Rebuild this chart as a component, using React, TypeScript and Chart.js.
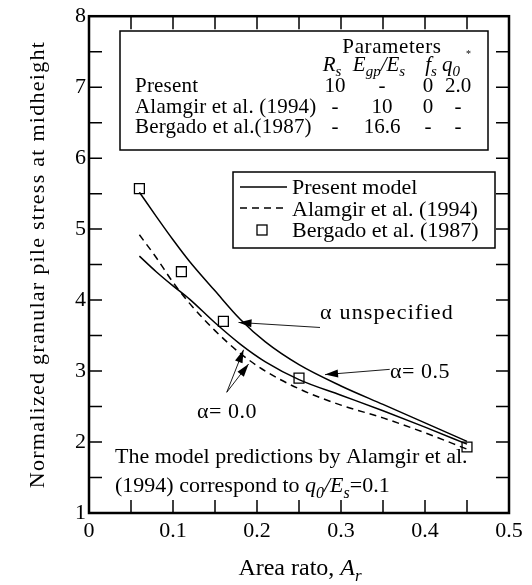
import React, { useEffect, useRef } from "react";
import { Chart, registerables } from "chart.js";

Chart.register(...registerables);

const FONT = "'Liberation Serif', 'Times New Roman', Times, serif";
const FS = 22;

const xTickLabels = ["0", "0.1", "0.2", "0.3", "0.4", "0.5"];
const yTickLabels = ["1", "2", "3", "4", "5", "6", "7", "8"];
const yTitle = "Normalized granular pile stress at midheight";

const modelX = [0.06, 0.08, 0.1, 0.12, 0.15, 0.18, 0.21, 0.25, 0.3, 0.35, 0.4, 0.45];
const presentUnspecifiedY = [5.52, 5.18, 4.85, 4.54, 4.13, 3.73, 3.41, 3.09, 2.79, 2.53, 2.27, 2.01];
const presentAlphaZeroY = [4.62, 4.4, 4.2, 4.01, 3.68, 3.38, 3.13, 2.88, 2.66, 2.44, 2.21, 1.97];
const alamgirY = [4.92, 4.6, 4.25, 3.95, 3.57, 3.25, 3.0, 2.75, 2.52, 2.34, 2.13, 1.9];
const bergadoX = [0.06, 0.11, 0.16, 0.25, 0.45];
const bergadoY = [5.57, 4.4, 3.7, 2.9, 1.93];

const legendLabels = ["Present model", "Alamgir et al. (1994)", "Bergado et al. (1987)"];
const paramRowLabels = ["Present", "Alamgir et al. (1994)", "Bergado et al.(1987)"];
const paramValues = [
  ["10", "-", "0", "2.0"],
  ["-", "10", "0", "-"],
  ["-", "16.6", "-", "-"],
];

type Seg = { t: string; it?: boolean; sub?: boolean };

function segFont(s: Seg, size: number) {
  return `${s.it ? "italic " : ""}${s.sub ? Math.round(size * 0.72) : size}px ${FONT}`;
}

function drawRich(
  ctx: CanvasRenderingContext2D,
  segs: Seg[],
  x: number,
  y: number,
  size: number,
  align: "left" | "center" | "right",
  ls = 0
) {
  const c: any = ctx;
  c.letterSpacing = `${ls}px`;
  let w = 0;
  for (const s of segs) {
    ctx.font = segFont(s, size);
    w += ctx.measureText(s.t).width;
  }
  let cx = align === "left" ? x : align === "center" ? x - w / 2 : x - w;
  ctx.textAlign = "left";
  ctx.textBaseline = "alphabetic";
  for (const s of segs) {
    ctx.font = segFont(s, size);
    ctx.fillText(s.t, cx, y + (s.sub ? size * 0.25 : 0));
    cx += ctx.measureText(s.t).width;
  }
  c.letterSpacing = "0px";
}

function arrow(ctx: CanvasRenderingContext2D, x1: number, y1: number, x2: number, y2: number) {
  ctx.beginPath();
  ctx.lineWidth = 0.9;
  ctx.moveTo(x1, y1);
  ctx.lineTo(x2, y2);
  ctx.stroke();
  const a = Math.atan2(y2 - y1, x2 - x1);
  const L = 13;
  const W = 4;
  ctx.beginPath();
  ctx.moveTo(x2, y2);
  ctx.lineTo(x2 - L * Math.cos(a) + W * Math.sin(a), y2 - L * Math.sin(a) - W * Math.cos(a));
  ctx.lineTo(x2 - L * Math.cos(a) - W * Math.sin(a), y2 - L * Math.sin(a) + W * Math.cos(a));
  ctx.closePath();
  ctx.fill();
}

const overlay = {
  id: "overlay",
  afterDraw(chart: any) {
    const ctx: CanvasRenderingContext2D = chart.ctx;
    const xs = chart.scales.x;
    const ys = chart.scales.y;
    const X = (v: number) => xs.getPixelForValue(v);
    const Y = (v: number) => ys.getPixelForValue(v);
    const { left, right, top, bottom } = chart.chartArea;
    ctx.save();
    ctx.strokeStyle = "#000";
    ctx.fillStyle = "#000";

    // inward ticks
    ctx.lineWidth = 1.5;
    const TL = 13;
    ctx.beginPath();
    for (let i = 1; i < 10; i++) {
      const px = X(i * 0.05);
      ctx.moveTo(px, bottom);
      ctx.lineTo(px, bottom - TL);
      ctx.moveTo(px, top);
      ctx.lineTo(px, top + TL);
    }
    for (let i = 1; i < 14; i++) {
      const py = Y(1 + i * 0.5);
      ctx.moveTo(left, py);
      ctx.lineTo(left + TL, py);
      ctx.moveTo(right, py);
      ctx.lineTo(right - TL, py);
    }
    ctx.stroke();

    // frame
    ctx.lineWidth = 2.5;
    ctx.strokeRect(left, top, right - left, bottom - top);

    // parameters box
    ctx.lineWidth = 1.5;
    ctx.strokeRect(120, 31, 368, 119);
    drawRich(ctx, [{ t: "Parameters" }], 392, 53, 21, "center", 0.6);
    drawRich(ctx, [{ t: "R", it: true }, { t: "s", it: true, sub: true }], 332, 71, 21, "center");
    drawRich(
      ctx,
      [{ t: "E", it: true }, { t: "gp", it: true, sub: true }, { t: "/", it: true }, { t: "E", it: true }, { t: "s", it: true, sub: true }],
      379,
      71,
      21,
      "center"
    );
    drawRich(ctx, [{ t: "f", it: true }, { t: "s", it: true, sub: true }], 431, 71, 21, "center");
    drawRich(ctx, [{ t: "q", it: true }, { t: "0", it: true, sub: true }], 451, 71, 21, "center");
    ctx.font = `10px ${FONT}`;
    ctx.fillText("*", 466, 57);
    const colX = [335, 382, 428, 458];
    const rowY = [92, 113, 133];
    paramRowLabels.forEach((lab, r) => {
      drawRich(ctx, [{ t: lab }], 135, rowY[r], 21, "left", 0.2);
      paramValues[r].forEach((v, c) => {
        drawRich(ctx, [{ t: v }], colX[c], rowY[r], 21, "center");
      });
    });

    // legend box
    ctx.lineWidth = 1.5;
    ctx.strokeRect(233, 172, 262, 76);
    ctx.beginPath();
    ctx.moveTo(240, 187);
    ctx.lineTo(287, 187);
    ctx.stroke();
    ctx.setLineDash([7, 5]);
    ctx.beginPath();
    ctx.moveTo(240, 208);
    ctx.lineTo(287, 208);
    ctx.stroke();
    ctx.setLineDash([]);
    ctx.lineWidth = 1.3;
    ctx.strokeRect(257, 225, 10, 10);
    drawRich(ctx, [{ t: legendLabels[0] }], 292, 194, FS, "left");
    drawRich(ctx, [{ t: legendLabels[1] }], 292, 216, FS, "left");
    drawRich(ctx, [{ t: legendLabels[2] }], 292, 237, FS, "left");

    // annotations
    drawRich(ctx, [{ t: "\u03b1 unspecified" }], 320, 319, FS, "left", 1.2);
    arrow(ctx, X(0.275), Y(3.614), X(0.178), Y(3.685));
    drawRich(ctx, [{ t: "\u03b1= 0.5" }], 390, 378, FS, "left", 0.5);
    arrow(ctx, X(0.358), Y(3.024), X(0.281), Y(2.95));
    drawRich(ctx, [{ t: "\u03b1= 0.0" }], 197, 418, FS, "left", 0.5);
    arrow(ctx, X(0.164), Y(2.701), X(0.184), Y(3.3));
    arrow(ctx, X(0.164), Y(2.701), X(0.19), Y(3.1));

    drawRich(ctx, [{ t: "The model predictions by Alamgir et al." }], 115, 463, FS, "left");
    drawRich(
      ctx,
      [
        { t: "(1994) correspond to " },
        { t: "q", it: true },
        { t: "0", it: true, sub: true },
        { t: "/", it: true },
        { t: "E", it: true },
        { t: "s", it: true, sub: true },
        { t: "=0.1" },
      ],
      115,
      492,
      FS,
      "left"
    );

    // x axis title
    drawRich(ctx, [{ t: "Area rato, " }, { t: "A", it: true }, { t: "r", it: true, sub: true }], 300, 575, 24, "center");

    // y axis title, letter-spaced to the reference length
    ctx.save();
    ctx.translate(38, (top + bottom) / 2);
    ctx.rotate(-Math.PI / 2);
    ctx.font = `22px ${FONT}`;
    const base = ctx.measureText(yTitle).width;
    const ls = Math.max(0, (446 - base) / (yTitle.length - 1));
    (ctx as any).letterSpacing = `${ls}px`;
    const w = ctx.measureText(yTitle).width;
    ctx.textAlign = "left";
    ctx.textBaseline = "middle";
    ctx.fillText(yTitle, -w / 2, 0);
    (ctx as any).letterSpacing = "0px";
    ctx.restore();

    ctx.restore();
  },
};

export default function App() {
  const ref = useRef<HTMLCanvasElement>(null);
  useEffect(() => {
    if (!ref.current) return;
    const line = (data: number[], dash: number[]) => ({
      data: modelX.map((x, i) => ({ x, y: data[i] })),
      showLine: true,
      borderColor: "#000",
      borderWidth: 1.5,
      borderDash: dash,
      pointRadius: 0,
      cubicInterpolationMode: "monotone" as const,
      fill: false,
    });
    const chart = new Chart(ref.current, {
      type: "scatter",
      data: {
        datasets: [
          { label: "Present model (\u03b1 unspecified)", ...line(presentUnspecifiedY, []) },
          { label: "Present model (\u03b1 = 0.0)", ...line(presentAlphaZeroY, []) },
          { label: "Alamgir et al. (1994)", ...line(alamgirY, [7, 5]) },
          {
            label: "Bergado et al. (1987)",
            data: bergadoX.map((x, i) => ({ x, y: bergadoY[i] })),
            showLine: false,
            pointStyle: "rect",
            pointRadius: 7,
            borderColor: "#000",
            borderWidth: 1.3,
            backgroundColor: "#fff",
          },
        ],
      },
      options: {
        responsive: false,
        animation: false,
        layout: { padding: { left: 0, top: 15, right: 23, bottom: 0 } },
        plugins: { legend: { display: false }, tooltip: { enabled: false } },
        scales: {
          x: {
            type: "linear",
            min: 0,
            max: 0.5,
            grid: { display: false, drawTicks: false },
            border: { display: false },
            ticks: {
              stepSize: 0.1,
              padding: 5,
              color: "#000",
              font: { family: FONT, size: FS },
              callback: (_v: any, i: number) => xTickLabels[i],
            },
            afterFit: (s: any) => {
              s.height = 72;
            },
          },
          y: {
            type: "linear",
            min: 1,
            max: 8,
            grid: { display: false, drawTicks: false },
            border: { display: false },
            ticks: {
              stepSize: 1,
              padding: 3,
              color: "#000",
              font: { family: FONT, size: FS },
              callback: (_v: any, i: number) => yTickLabels[i],
            },
            afterFit: (s: any) => {
              s.width = 89;
            },
          },
        },
      },
      plugins: [overlay],
    });
    return () => chart.destroy();
  }, []);
  return (
    <div style={{ position: "fixed", left: 0, top: 0, width: 532, height: 585, background: "#fff" }}>
      <canvas ref={ref} width={532} height={585} />
    </div>
  );
}
